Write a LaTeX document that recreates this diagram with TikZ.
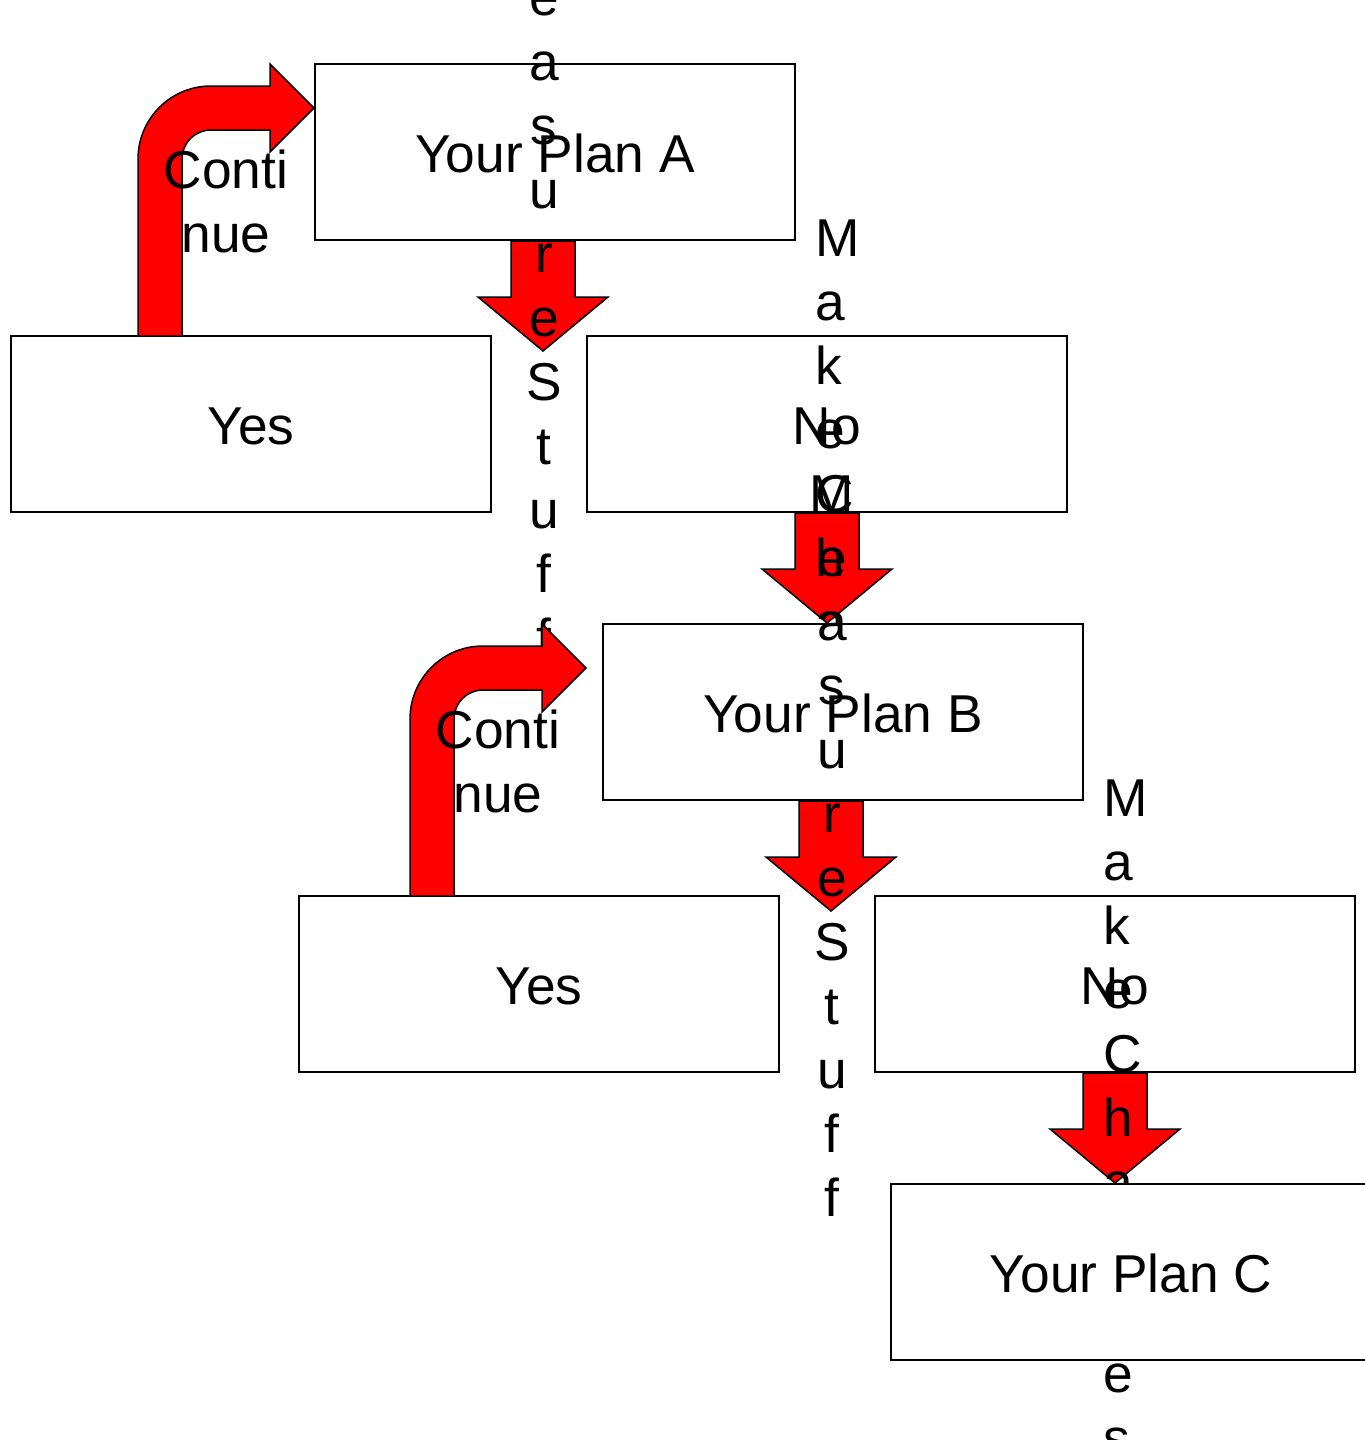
\documentclass[tikz,border=0pt]{standalone}
\usepackage{fontspec}
\setmainfont{Liberation Sans}
\usetikzlibrary{calc}
\newcommand\bigfnt{\fontsize{53.3}{64}\selectfont}
\tikzset{
  box/.style={draw=black, line width=2pt, fill=white, rectangle,
    minimum width=480pt, minimum height=176pt, inner sep=0pt,
    text height=40pt, text depth=0pt, font=\bigfnt},
  blk/.style={fill=red, draw=black, line width=1.5pt, line join=miter},
  letter/.style={anchor=base west, inner sep=0pt, font=\bigfnt},
  cletter/.style={anchor=base, inner sep=0pt, font=\bigfnt},
  ctxt/.style={anchor=base, inner sep=0pt, font=\bigfnt},
  pics/downarrow/.style={code={
    \draw[blk] (-32,0) -- (-32,56) -- (-65,56) -- (0,110) -- (65,56) -- (32,56) -- (32,0) -- cycle;}},
  pics/contarrow/.style={code={
    \draw[blk] (-176,228) -- (-176,51) .. controls (-176,10.7) and (-143.3,-22) .. (-103,-22)
      -- (-44,-22) -- (-44,-44) -- (0,0) -- (-44,44) -- (-44,22) -- (-103,22)
      .. controls (-119,22) and (-132,35) .. (-132,51) -- (-132,228) -- cycle;}},
}
\begin{document}
\begin{tikzpicture}[x=1pt,y=-1pt]
\useasboundingbox (0,0) rectangle (1365,1440);
\clip (0,0) rectangle (1365,1440);

% level A
\node[box] (planA) at (555,152) {Your Plan A};
\coordinate (aA) at ($(planA.south)+(-12,0)$);
\pic at (aA) {downarrow};
\node[box] (yesA) at (251,424) {Yes};
\node[box] (noA) at (827,424) {No};
\coordinate (ctA) at ($(planA.west)+(0,-44)$);
\pic at (ctA) {contarrow};
\node[ctxt] (contA1) at ($(ctA)+(-88,80)$) {Conti};
\node[ctxt] (contA2) at ($(ctA)+(-88,144)$) {nue};
\coordinate (aNA) at (noA.south);
\pic at (aNA) {downarrow};
\foreach \ch [count=\i from 0] in {M,a,k,e,C,h,a,n,g,e,s}
  \node[letter] (mkA\i) at ($(aNA)+(-12,-257+64*\i)$) {\ch};
\foreach \ch [count=\i from 0] in {M,e,a,s,u,r,e,S,t,u,f,f}
  \node[cletter] (msA\i) at ($(aA)+(1,-289+64*\i)$) {\ch};

% level B
\node[box] (planB) at (843,712) {Your Plan B};
\coordinate (aB) at ($(planB.south)+(-12,0)$);
\pic at (aB) {downarrow};
\foreach \ch [count=\i from 0] in {M,e,a,s,u,r,e,S,t,u,f,f}
  \node[cletter] (msB\i) at ($(aB)+(1,-289+64*\i)$) {\ch};
\node[box] (yesB) at (539,984) {Yes};
\node[box] (noB) at (1115,984) {No};
\coordinate (ctB) at ($(planB.west)+(-16,-44)$);
\pic at (ctB) {contarrow};
\node[ctxt] (contB1) at ($(ctB)+(-88,80)$) {Conti};
\node[ctxt] (contB2) at ($(ctB)+(-88,144)$) {nue};
\coordinate (aNB) at (noB.south);
\pic at (aNB) {downarrow};
\foreach \ch [count=\i from 0] in {M,a,k,e,C,h,a,n,g,e,s}
  \node[letter] (mkB\i) at ($(aNB)+(-12,-257+64*\i)$) {\ch};

% level C
\node[box] (planC) at (1131,1272) {Your Plan C};
\end{tikzpicture}
\end{document}
